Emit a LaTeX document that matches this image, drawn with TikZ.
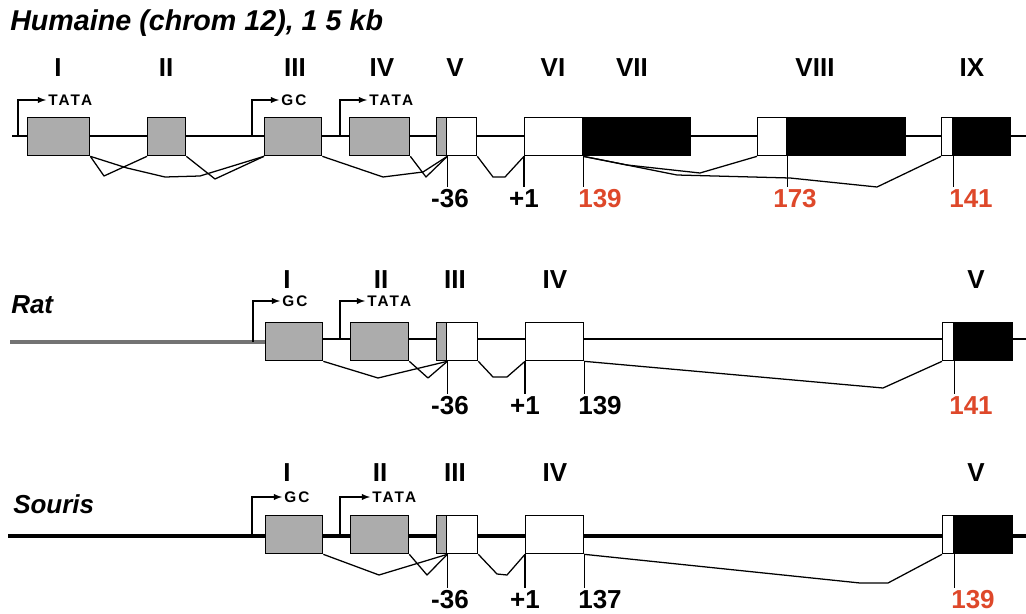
\documentclass[tikz,border=0pt]{standalone}
\usepackage{fontspec}
\setmainfont{Liberation Sans}
\usetikzlibrary{arrows}
\definecolor{exongray}{RGB}{172,172,172}
\definecolor{sitered}{RGB}{222,72,42}
\definecolor{flankgray}{RGB}{115,115,115}
\tikzset{
  exon/.style={draw, line width=1pt, fill=exongray, inner sep=0pt, anchor=north west,
    minimum height=28.5pt, minimum width=#1*0.75pt},
  blank/.style={exon=#1, fill=white},
  coding/.style={exon=#1, fill=black},
  splice/.style={line width=0.95pt, line join=round},
  sitetick/.style={line width=1.2pt, shorten >=1pt},
  promo/.style={line width=1.1pt, -latex},
  numeral/.style={font=\fontsize{19.5}{21}\selectfont\bfseries, inner sep=0.75pt},
  site/.style={font=\fontsize{19.5}{21}\selectfont\bfseries, inner sep=0.75pt},
  motif/.style={font=\fontsize{11.5}{13}\selectfont\bfseries\addfontfeature{LetterSpace=14}, inner sep=1.5pt, anchor=west},
  species/.style={font=\fontsize{19.5}{21}\selectfont\bfseries\itshape, inner sep=0.75pt, anchor=west},
}
\begin{document}
\begin{tikzpicture}[x=0.75pt,y=0.75pt,yscale=-1,xscale=1]
\useasboundingbox (0,0) rectangle (1026,614);

%%% Humaine
\node[species, font=\fontsize{21.5}{23}\selectfont\bfseries\itshape] (htitle) at (9,23) {Humaine (chrom 12), 1 5 kb};
%Straight Lines
\draw [line width=1pt] (12,136) -- (1026,136);
%Shapes: exons
\node[exon=62] (hI) at (27,117) {};
\node[exon=38] (hII) at (147,117) {};
\node[exon=57] (hIII) at (264,117) {};
\node[exon=60] (hIV) at (349,117) {};
\node[exon=10] (hVa) at (436,117) {};
\node[blank=30] (hVb) at (446,117) {};
\node[blank=58] (hVI) at (524,117) {};
\node[coding=108] (hVII) at (582,117) {};
\node[blank=29] (hVIIIa) at (757,117) {};
\node[coding=119] (hVIIIb) at (786,117) {};
\node[blank=11] (hIXa) at (941,117) {};
\node[coding=58] (hIXb) at (952,117) {};
% Text Node
\node[numeral] (hnI) at (58,68) {I};
\node[numeral] (hnII) at (166,68) {II};
\node[numeral] (hnIII) at (295,68) {III};
\node[numeral] (hnIV) at (382,68) {IV};
\node[numeral] (hnV) at (455,68) {V};
\node[numeral] (hnVI) at (553,68) {VI};
\node[numeral] (hnVII) at (632,68) {VII};
\node[numeral] (hnVIII) at (815,68) {VIII};
\node[numeral] (hnIX) at (972,68) {IX};
%promoters
\node[motif] (hm1) at (46,100) {TATA};
\node[motif] (hm3) at (279,100) {GC};
\node[motif] (hm4) at (367,100) {TATA};
\coordinate (hp1) at (18,136);
\coordinate (hp3) at (252,136);
\coordinate (hp4) at (340,136);
\draw[promo] (hp1) |- (hm1.west);
\draw[promo] (hp3) |- (hm3.west);
\draw[promo] (hp4) |- (hm4.west);
%splicing
\draw[splice] (hI.south east) -- (104,176) -- (hII.south west);
\draw[splice] (hI.south east) -- (127,168) -- (165,177) -- (200,176) -- (hIII.south west);
\draw[splice] (hII.south east) -- (215,179) -- (hIII.south west);
\draw[splice] (hIII.south east) -- (383,177) -- (423,172) -- (hVa.south east);
\draw[splice] (hIV.south east) -- (426,177) -- (hVa.south east);
\draw[splice] (hVb.south east) -- (493,177) -- (505,177) -- (hVI.south west);
\draw[splice] (hVI.south east) -- (627,165) -- (700,173) -- (hVIIIa.south west);
\draw[splice] (hVI.south east) -- (677,175) -- (790,178) -- (877,187) -- (hIXa.south west);
% Text Node
\node[site] (hs1) at (450,199) {-36};
\node[site] (hs2) at (524,199) {+1};
\node[site, text=sitered] (hs3) at (600,199) {139};
\node[site, text=sitered] (hs4) at (795,199) {173};
\node[site, text=sitered] (hs5) at (971,199) {141};
\draw[sitetick] (hVa.south east) -- (hVa.south east |- hs1.north);
\draw[sitetick] (hVI.south west) -- (hVI.south west |- hs2.north);
\draw[sitetick] (hVI.south east) -- (hVI.south east |- hs3.north);
\draw[sitetick] (hVIIIa.south east) -- (hVIIIa.south east |- hs4.north);
\draw[sitetick] (hIXa.south east) -- (hIXa.south east |- hs5.north);

%%% Rat
\node[species] (rtitle) at (10,305) {Rat};
%Straight Lines
\draw [line width=2.4pt, color=flankgray] (10,342) -- (270,342);
\draw [line width=1pt] (322,339) -- (1026,339);
%Shapes: exons
\node[exon=57] (rI) at (265,322) {};
\node[exon=58] (rII) at (350,322) {};
\node[exon=10] (rIIIa) at (436,322) {};
\node[blank=31] (rIIIb) at (446,322) {};
\node[blank=58] (rIV) at (525,322) {};
\node[blank=11] (rVa) at (942,322) {};
\node[coding=59] (rVb) at (953,322) {};
% Text Node
\node[numeral] (rnI) at (287,280) {I};
\node[numeral] (rnII) at (381,280) {II};
\node[numeral] (rnIII) at (455,280) {III};
\node[numeral] (rnIV) at (555,280) {IV};
\node[numeral] (rnV) at (976,280) {V};
%promoters
\node[motif] (rm1) at (280,301) {GC};
\node[motif] (rm2) at (365,301) {TATA};
\coordinate (rp1) at (253,342);
\coordinate (rp2) at (340,339);
\draw[promo] (rp1) |- (rm1.west);
\draw[promo] (rp2) |- (rm2.west);
%splicing
\draw[splice] (rI.south east) -- (378,378) -- (rIIIa.south east);
\draw[splice] (rII.south east) -- (428,378) -- (rIIIa.south east);
\draw[splice] (rIIIb.south east) -- (493,377) -- (507,377) -- (rIV.south west);
\draw[splice] (rIV.south east) -- (883,388) -- (rVa.south west);
% Text Node
\node[site] (rs1) at (450,406) {-36};
\node[site] (rs2) at (525,406) {+1};
\node[site] (rs3) at (600,406) {139};
\node[site, text=sitered] (rs4) at (971,406) {141};
\draw[sitetick] (rIIIa.south east) -- (rIIIa.south east |- rs1.north);
\draw[sitetick] (rIV.south west) -- (rIV.south west |- rs2.north);
\draw[sitetick] (rIV.south east) -- (rIV.south east |- rs3.north);
\draw[sitetick] (rVa.south east) -- (rVa.south east |- rs4.north);

%%% Souris
\node[species] (stitle) at (12,504) {Souris};
%Straight Lines
\draw [line width=2.6pt] (8,536) -- (1026,536);
%Shapes: exons
\node[exon=57] (sI) at (265,515) {};
\node[exon=58] (sII) at (350,515) {};
\node[exon=10] (sIIIa) at (436,515) {};
\node[blank=31] (sIIIb) at (446,515) {};
\node[blank=58] (sIV) at (525,515) {};
\node[blank=11] (sVa) at (942,515) {};
\node[coding=59] (sVb) at (953,515) {};
% Text Node
\node[numeral] (snI) at (287,473) {I};
\node[numeral] (snII) at (380,473) {II};
\node[numeral] (snIII) at (455,473) {III};
\node[numeral] (snIV) at (555,473) {IV};
\node[numeral] (snV) at (976,473) {V};
%promoters
\node[motif] (sm1) at (282,497) {GC};
\node[motif] (sm2) at (370,497) {TATA};
\coordinate (sp1) at (252,536);
\coordinate (sp2) at (340,536);
\draw[promo] (sp1) |- (sm1.west);
\draw[promo] (sp2) |- (sm2.west);
%splicing
\draw[splice] (sI.south east) -- (379,575) -- (sIIIa.south east);
\draw[splice] (sII.south east) -- (427,575) -- (sIIIa.south east);
\draw[splice] (sIIIb.south east) -- (497,574) -- (507,575) -- (sIV.south west);
\draw[splice] (sIV.south east) -- (860,583) -- (888,583) -- (sVa.south west);
% Text Node
\node[site] (ss1) at (450,600) {-36};
\node[site] (ss2) at (525,600) {+1};
\node[site] (ss3) at (600,600) {137};
\node[site, text=sitered] (ss4) at (973,600) {139};
\draw[sitetick] (sIIIa.south east) -- (sIIIa.south east |- ss1.north);
\draw[sitetick] (sIV.south west) -- (sIV.south west |- ss2.north);
\draw[sitetick] (sIV.south east) -- (sIV.south east |- ss3.north);
\draw[sitetick] (sVa.south east) -- (sVa.south east |- ss4.north);

\end{tikzpicture}
\end{document}
